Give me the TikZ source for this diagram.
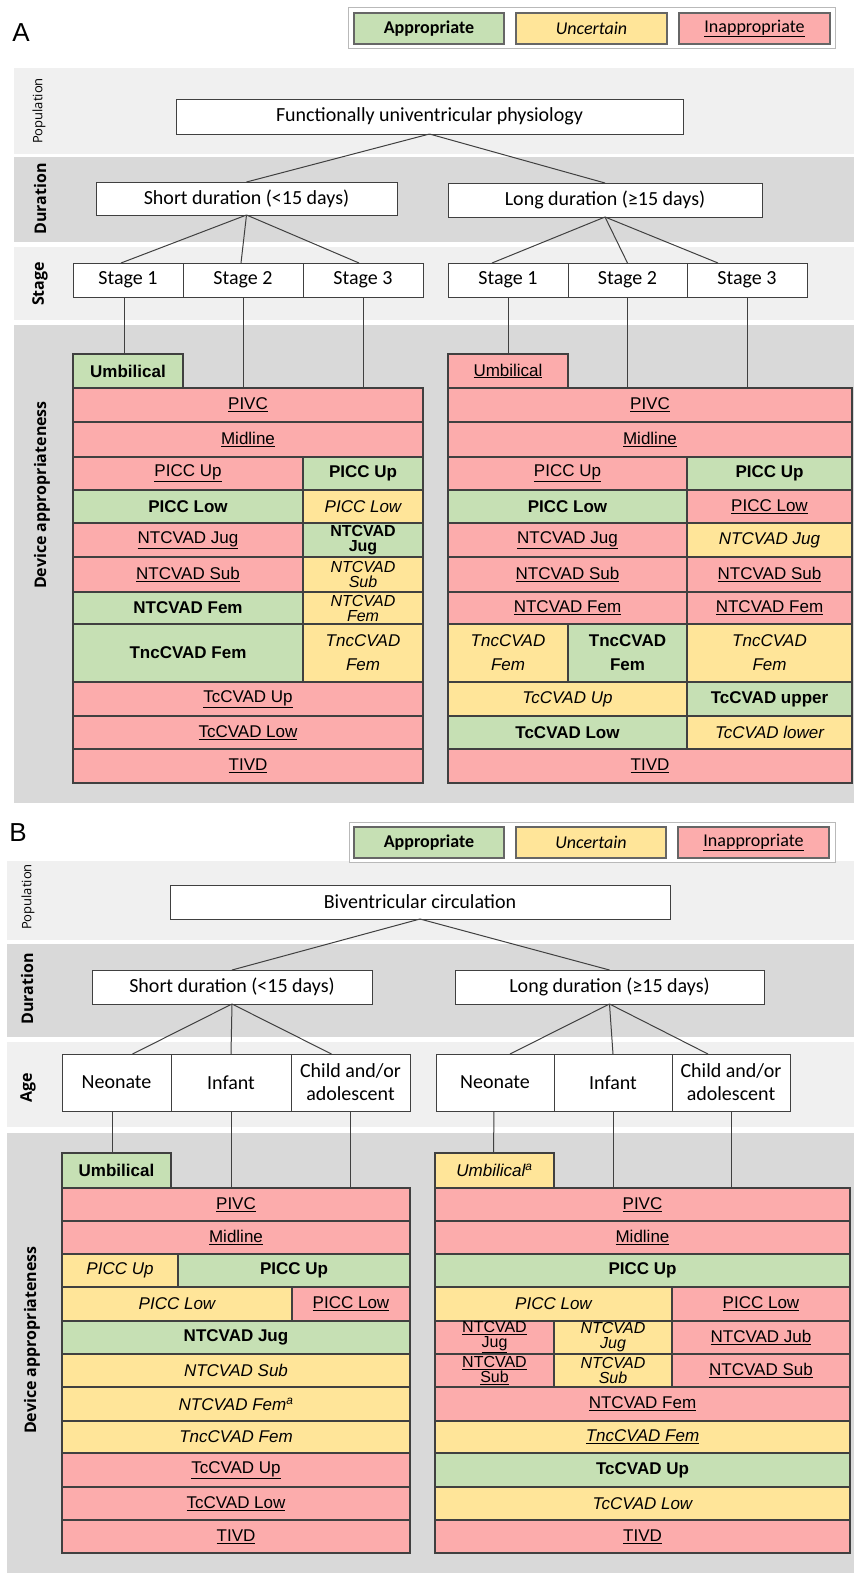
\documentclass[tikz,border=0pt]{standalone}
\usepackage{fontspec}
\setmainfont{Liberation Sans}
\newfontfamily\cellfont{Liberation Sans}
\newfontfamily\treefont{Carlito}
\newfontfamily\sidefont{Open Sans}
\definecolor{okgreen}{RGB}{198,224,180}
\definecolor{maybeyellow}{RGB}{255,229,153}
\definecolor{nored}{RGB}{252,172,172}
\definecolor{bandlight}{RGB}{240,240,240}
\definecolor{banddark}{RGB}{217,217,217}
\definecolor{edgegray}{RGB}{64,64,64}
\newcommand{\devcell}[7]{%
  \node[#6, minimum width={(#4-#2)*1pt}, minimum height={(#5-#3)*1pt}] (#1) at ({(#2+#4)/2},{(#3+#5)/2}) {#7};}

\begin{document}
\begin{tikzpicture}[x=1pt, y=-1pt,
    cellbox/.style={draw=edgegray, line width=1.2pt, inner sep=0pt, outer sep=0pt, align=center},
    good/.style={cellbox, fill=okgreen, font=\cellfont\bfseries\fontsize{#1}{15}\selectfont},
    good/.default=17,
    unsure/.style={cellbox, fill=maybeyellow, font=\cellfont\itshape\fontsize{#1}{15}\selectfont},
    unsure/.default=17,
    bad/.style={cellbox, fill=nored, font=\cellfont\fontsize{#1}{15}\selectfont},
    bad/.default=17,
    treebox/.style={draw=edgegray, line width=1pt, fill=white, inner sep=0pt, outer sep=0pt, align=center, font=\treefont\fontsize{20}{23}\selectfont},
    legframe/.style={draw=gray!55, line width=1pt, fill=white, inner sep=0pt},
    legbox/.style={draw=edgegray!80, line width=1.3pt, inner sep=0pt, font=\treefont\fontsize{18}{18}\selectfont},
    wire/.style={draw=edgegray, line width=1pt},
    side/.style={rotate=90, font=\sidefont\bfseries\fontsize{16}{16}\selectfont},
    sidethin/.style={rotate=90, font=\sidefont\fontsize{13}{13}\selectfont},
    panel/.style={font=\fontsize{26}{26}\selectfont}
  ]
  \useasboundingbox (0,0) rectangle (854,1577);

  % ---------- panel A ----------
  \fill[bandlight] (14,68) rectangle (854,154);
  \fill[banddark] (14,157) rectangle (854,242);
  \fill[bandlight] (14,247) rectangle (854,320);
  \fill[banddark] (14,325) rectangle (854,803);

  \node[panel] (letA) at (21,33) {A};
  \devcell{legA}{348}{7}{835}{48}{legframe}{}
  \devcell{legA1}{354}{13}{504}{44}{legbox, fill=okgreen}{\bfseries Appropriate}
  \devcell{legA2}{516}{13}{667}{44}{legbox, fill=maybeyellow}{\itshape Uncertain}
  \devcell{legA3}{679}{13}{830}{44}{legbox, fill=nored}{\underline{Inappropriate}}

  \node[sidethin] (popA) at (39,111) {Population};
  \node[side] (durA) at (40,199) {Duration};
  \node[side] (stgA) at (40,284) {Stage};
  \node[side] (devA) at (42,495) {Device appropriateness};

  \devcell{rootA}{176}{99}{683}{134}{treebox}{Functionally univentricular physiology}
  \devcell{shortA}{96}{182}{397}{215}{treebox}{Short duration (<15 days)}
  \devcell{longA}{448}{183}{762}{217}{treebox}{Long duration (≥15 days)}
  \devcell{sa1}{73}{263}{183}{297}{treebox}{Stage 1}
  \devcell{sa2}{183}{263}{303}{297}{treebox}{Stage 2}
  \devcell{sa3}{303}{263}{423}{297}{treebox}{Stage 3}
  \devcell{sb1}{448}{263}{568}{297}{treebox}{Stage 1}
  \devcell{sb2}{568}{263}{687}{297}{treebox}{Stage 2}
  \devcell{sb3}{687}{263}{807}{297}{treebox}{Stage 3}

  \draw[wire] (rootA.south) -- (shortA.north);
  \draw[wire] (rootA.south) -- (longA.north);
  \draw[wire] (shortA.south) -- ([xshift=-7pt]sa1.north);
  \draw[wire] (shortA.south) -- ([xshift=-2pt]sa2.north);
  \draw[wire] (shortA.south) -- ([xshift=-4pt]sa3.north);
  \draw[wire] (longA.south) -- ([xshift=-16pt]sb1.north);
  \draw[wire] (longA.south) -- (sb2.north);
  \draw[wire] (longA.south) -- ([xshift=-29pt]sb3.north);

  % left table, stages
  \devcell{al-umb}{73}{354}{183}{388}{good}{Umbilical}
  \devcell{al-pivc}{73}{388}{423}{422}{bad}{\underline{PIVC}}
  \devcell{al-mid}{73}{422}{423}{457}{bad}{\underline{Midline}}
  \devcell{al-pu1}{73}{457}{303}{490}{bad}{\underline{PICC Up}}
  \devcell{al-pu2}{303}{457}{423}{490}{good}{PICC Up}
  \devcell{al-pl1}{73}{490}{303}{523}{good}{PICC Low}
  \devcell{al-pl2}{303}{490}{423}{523}{unsure}{PICC Low}
  \devcell{al-jug1}{73}{523}{303}{557}{bad}{\underline{NTCVAD Jug}}
  \devcell{al-jug2}{303}{523}{423}{557}{good=16}{NTCVAD\\Jug}
  \devcell{al-sub1}{73}{557}{303}{592}{bad}{\underline{NTCVAD Sub}}
  \devcell{al-sub2}{303}{557}{423}{592}{unsure=16}{NTCVAD\\Sub}
  \devcell{al-fem1}{73}{592}{303}{624}{good}{NTCVAD Fem}
  \devcell{al-fem2}{303}{592}{423}{624}{unsure=16}{NTCVAD\\Fem}
  \devcell{al-tnc1}{73}{624}{303}{682}{good}{TncCVAD Fem}
  \devcell{al-tnc2}{303}{624}{423}{682}{unsure}{TncCVAD\\[9pt]Fem}
  \devcell{al-tcu}{73}{682}{423}{716}{bad}{\underline{TcCVAD Up}}
  \devcell{al-tcl}{73}{716}{423}{749}{bad}{\underline{TcCVAD Low}}
  \devcell{al-tivd}{73}{749}{423}{783}{bad}{\underline{TIVD}}

  % right table, stages
  \devcell{ar-umb}{448}{354}{568}{388}{bad}{\underline{Umbilical}}
  \devcell{ar-pivc}{448}{388}{852}{422}{bad}{\underline{PIVC}}
  \devcell{ar-mid}{448}{422}{852}{457}{bad}{\underline{Midline}}
  \devcell{ar-pu1}{448}{457}{687}{490}{bad}{\underline{PICC Up}}
  \devcell{ar-pu2}{687}{457}{852}{490}{good}{PICC Up}
  \devcell{ar-pl1}{448}{490}{687}{523}{good}{PICC Low}
  \devcell{ar-pl2}{687}{490}{852}{523}{bad}{\underline{PICC Low}}
  \devcell{ar-jug1}{448}{523}{687}{557}{bad}{\underline{NTCVAD Jug}}
  \devcell{ar-jug2}{687}{523}{852}{557}{unsure}{NTCVAD Jug}
  \devcell{ar-sub1}{448}{557}{687}{592}{bad}{\underline{NTCVAD Sub}}
  \devcell{ar-sub2}{687}{557}{852}{592}{bad}{\underline{NTCVAD Sub}}
  \devcell{ar-fem1}{448}{592}{687}{624}{bad}{\underline{NTCVAD Fem}}
  \devcell{ar-fem2}{687}{592}{852}{624}{bad}{\underline{NTCVAD Fem}}
  \devcell{ar-tnc1}{448}{624}{568}{682}{unsure}{TncCVAD\\[9pt]Fem}
  \devcell{ar-tnc2}{568}{624}{687}{682}{good}{TncCVAD\\[9pt]Fem}
  \devcell{ar-tnc3}{687}{624}{852}{682}{unsure}{TncCVAD\\[9pt]Fem}
  \devcell{ar-tcu1}{448}{682}{687}{716}{unsure}{TcCVAD Up}
  \devcell{ar-tcu2}{687}{682}{852}{716}{good}{TcCVAD upper}
  \devcell{ar-tcl1}{448}{716}{687}{749}{good}{TcCVAD Low}
  \devcell{ar-tcl2}{687}{716}{852}{749}{unsure}{TcCVAD lower}
  \devcell{ar-tivd}{448}{749}{852}{783}{bad}{\underline{TIVD}}

  \draw[wire] ([xshift=-4pt]sa1.south) -- ([xshift=-4pt]al-umb.north);
  \draw[wire] (sa2.south) -- (sa2.south |- al-pivc.north);
  \draw[wire] (sa3.south) -- (sa3.south |- al-pivc.north);
  \draw[wire] (sb1.south) -- (ar-umb.north);
  \draw[wire] (sb2.south) -- (sb2.south |- ar-pivc.north);
  \draw[wire] (sb3.south) -- (sb3.south |- ar-pivc.north);

  % ---------- panel B ----------
  \fill[bandlight] (7,861) rectangle (854,940);
  \fill[banddark] (7,944) rectangle (854,1037);
  \fill[bandlight] (7,1042) rectangle (854,1127);
  \fill[banddark] (7,1133) rectangle (854,1573);

  \node[panel] (letB) at (18,833) {B};
  \devcell{legB}{349}{822}{835}{862}{legframe}{}
  \devcell{legB1}{354}{827}{504}{858}{legbox, fill=okgreen}{\bfseries Appropriate}
  \devcell{legB2}{516}{827}{666}{858}{legbox, fill=maybeyellow}{\itshape Uncertain}
  \devcell{legB3}{678}{827}{829}{858}{legbox, fill=nored}{\underline{Inappropriate}}

  \node[sidethin] (popB) at (28,897) {Population};
  \node[side] (durB) at (27,989) {Duration};
  \node[side] (ageB) at (28,1088) {Age};
  \node[side] (devB) at (32,1340) {Device appropriateness};

  \devcell{rootB}{170}{885}{670}{919}{treebox}{Biventricular circulation}
  \devcell{shortB}{92}{970}{372}{1004}{treebox}{Short duration (<15 days)}
  \devcell{longB}{455}{970}{764}{1004}{treebox}{Long duration (≥15 days)}
  \devcell{ga1}{62}{1054}{171}{1111}{treebox}{Neonate}
  \devcell{ga2}{171}{1054}{291}{1111}{treebox}{Infant}
  \devcell{ga3}{291}{1054}{410}{1111}{treebox}{Child and/or\\adolescent}
  \devcell{gb1}{436}{1054}{554}{1111}{treebox}{Neonate}
  \devcell{gb2}{554}{1054}{672}{1111}{treebox}{Infant}
  \devcell{gb3}{672}{1054}{790}{1111}{treebox}{Child and/or\\adolescent}

  \draw[wire] (rootB.south) -- (shortB.north);
  \draw[wire] (rootB.south) -- (longB.north);
  \draw[wire] (shortB.south) -- ([xshift=16pt]ga1.north);
  \draw[wire] (shortB.south) -- (ga2.north);
  \draw[wire] (shortB.south) -- ([xshift=-19pt]ga3.north);
  \draw[wire] (longB.south) -- ([xshift=15pt]gb1.north);
  \draw[wire] (longB.south) -- (gb2.north);
  \draw[wire] (longB.south) -- ([xshift=-23pt]gb3.north);

  % left table, ages
  \devcell{bl-umb}{62}{1153}{171}{1188}{good}{Umbilical}
  \devcell{bl-pivc}{62}{1188}{410}{1221}{bad}{\underline{PIVC}}
  \devcell{bl-mid}{62}{1221}{410}{1254}{bad}{\underline{Midline}}
  \devcell{bl-pu1}{62}{1254}{178}{1287}{unsure}{PICC Up}
  \devcell{bl-pu2}{178}{1254}{410}{1287}{good}{PICC Up}
  \devcell{bl-pl1}{62}{1287}{292}{1321}{unsure}{PICC Low}
  \devcell{bl-pl2}{292}{1287}{410}{1321}{bad}{\underline{PICC Low}}
  \devcell{bl-jug}{62}{1321}{410}{1354}{good}{NTCVAD Jug}
  \devcell{bl-sub}{62}{1354}{410}{1387}{unsure}{NTCVAD Sub}
  \devcell{bl-fem}{62}{1387}{410}{1421}{unsure}{NTCVAD Fem\textsuperscript{a}}
  \devcell{bl-tnc}{62}{1421}{410}{1453}{unsure}{TncCVAD Fem}
  \devcell{bl-tcu}{62}{1453}{410}{1487}{bad}{\underline{TcCVAD Up}}
  \devcell{bl-tcl}{62}{1487}{410}{1520}{bad}{\underline{TcCVAD Low}}
  \devcell{bl-tivd}{62}{1520}{410}{1553}{bad}{\underline{TIVD}}

  % right table, ages
  \devcell{br-umb}{435}{1153}{554}{1188}{unsure}{Umbilical\textsuperscript{a}}
  \devcell{br-pivc}{435}{1188}{850}{1221}{bad}{\underline{PIVC}}
  \devcell{br-mid}{435}{1221}{850}{1254}{bad}{\underline{Midline}}
  \devcell{br-pu}{435}{1254}{850}{1287}{good}{PICC Up}
  \devcell{br-pl1}{435}{1287}{672}{1321}{unsure}{PICC Low}
  \devcell{br-pl2}{672}{1287}{850}{1321}{bad}{\underline{PICC Low}}
  \devcell{br-jug1}{435}{1321}{554}{1354}{bad=16}{\underline{NTCVAD}\\\underline{Jug}}
  \devcell{br-jug2}{554}{1321}{672}{1354}{unsure=16}{NTCVAD\\Jug}
  \devcell{br-jug3}{672}{1321}{850}{1354}{bad}{\underline{NTCVAD Jub}}
  \devcell{br-sub1}{435}{1354}{554}{1387}{bad=16}{\underline{NTCVAD}\\\underline{Sub}}
  \devcell{br-sub2}{554}{1354}{672}{1387}{unsure=16}{NTCVAD\\Sub}
  \devcell{br-sub3}{672}{1354}{850}{1387}{bad}{\underline{NTCVAD Sub}}
  \devcell{br-fem}{435}{1387}{850}{1421}{bad}{\underline{NTCVAD Fem}}
  \devcell{br-tnc}{435}{1421}{850}{1453}{unsure}{\underline{TncCVAD Fem}}
  \devcell{br-tcu}{435}{1453}{850}{1487}{good}{TcCVAD Up}
  \devcell{br-tcl}{435}{1487}{850}{1520}{unsure}{TcCVAD Low}
  \devcell{br-tivd}{435}{1520}{850}{1553}{bad}{\underline{TIVD}}

  \draw[wire] ([xshift=-4pt]ga1.south) -- ([xshift=-4pt]bl-umb.north);
  \draw[wire] (ga2.south) -- (ga2.south |- bl-pivc.north);
  \draw[wire] (ga3.south) -- (ga3.south |- bl-pivc.north);
  \draw[wire] ([xshift=-1pt]gb1.south) -- ([xshift=-1pt]br-umb.north);
  \draw[wire] (gb2.south) -- (gb2.south |- br-pivc.north);
  \draw[wire] (gb3.south) -- (gb3.south |- br-pivc.north);
\end{tikzpicture}
\end{document}
